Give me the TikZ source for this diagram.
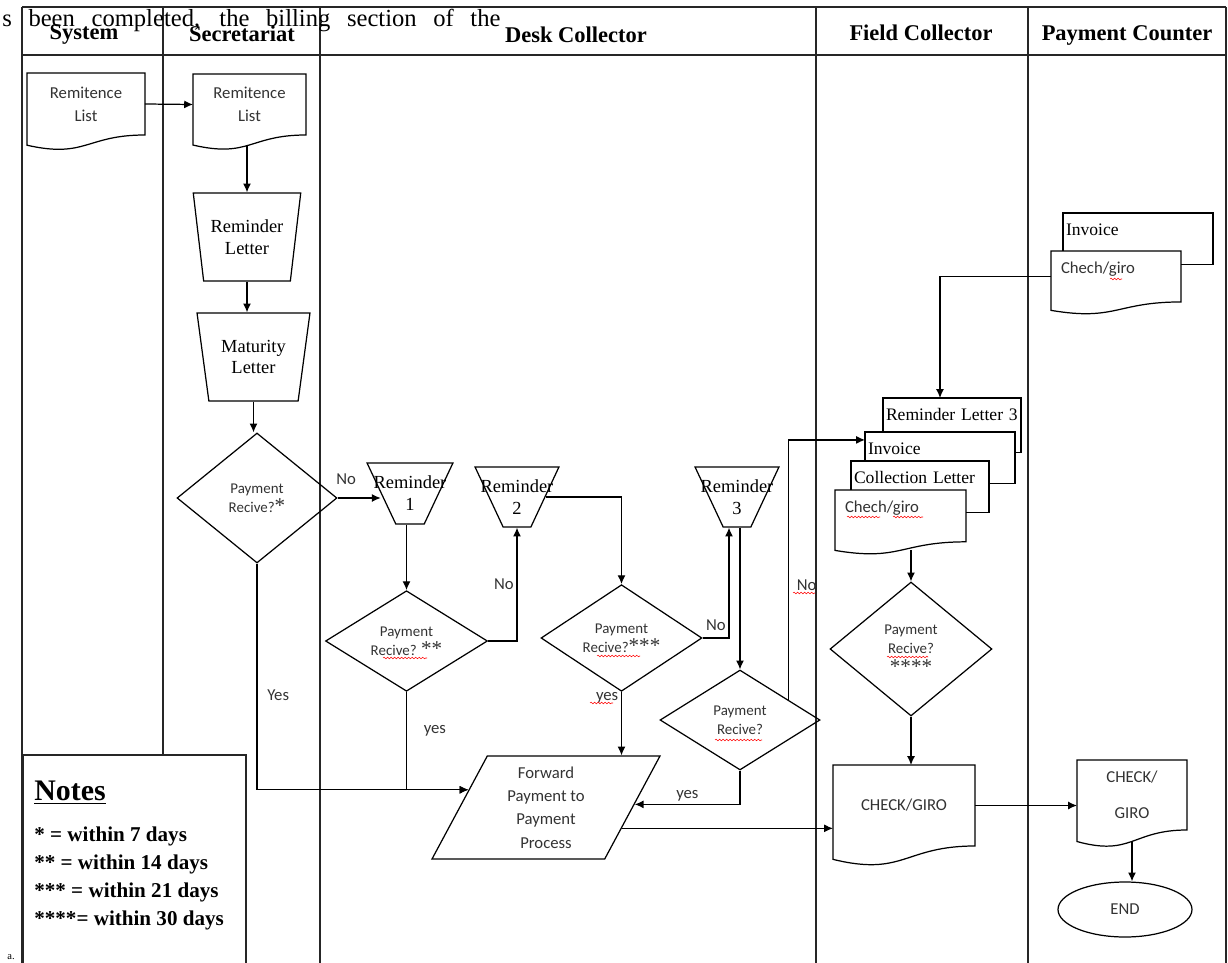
\documentclass[tikz,border=0pt]{standalone}
\usepackage{fontspec}
\setmainfont{Liberation Serif}
\newfontfamily\calib{Carlito}
\usetikzlibrary{calc,arrows.meta,shapes.geometric,decorations.pathmorphing}

\makeatletter
\newdimen\dcxl \newdimen\dcxr \newdimen\dcxm \newdimen\dcyt \newdimen\dcyb \newdimen\dch
\pgfdeclareshape{document}{
  \inheritsavedanchors[from=rectangle]
  \inheritanchorborder[from=rectangle]
  \inheritanchor[from=rectangle]{center}
  \inheritanchor[from=rectangle]{north}
  \inheritanchor[from=rectangle]{south}
  \inheritanchor[from=rectangle]{east}
  \inheritanchor[from=rectangle]{west}
  \inheritanchor[from=rectangle]{north east}
  \inheritanchor[from=rectangle]{north west}
  \inheritanchor[from=rectangle]{south east}
  \inheritanchor[from=rectangle]{south west}
  \inheritanchor[from=rectangle]{base}
  \inheritanchor[from=rectangle]{mid}
  \anchor{wave}{%
    \southwest \dcxl=\pgf@x \dcyb=\pgf@y
    \northeast \dch=\pgf@y \advance\dch by -\dcyb
    \pgf@x=.5\pgf@x \advance\pgf@x by .5\dcxl
    \pgf@y=\dcyb \advance\pgf@y by -.162\dch}
  \backgroundpath{%
    \southwest \dcxl=\pgf@x \dcyb=\pgf@y
    \northeast \dcxr=\pgf@x \dcyt=\pgf@y
    \dcxm=.5\dcxl \advance\dcxm by .5\dcxr
    \dch=\dcyt \advance\dch by -\dcyb
    \pgfpathmoveto{\pgfqpoint{\dcxl}{\dcyt}}%
    \pgfpathlineto{\pgfqpoint{\dcxr}{\dcyt}}%
    \pgfpathlineto{\pgfqpoint{\dcxr}{\dcyb}}%
    \pgfpathcurveto{\pgfqpoint{\dcxm}{\dcyb}}%
      {\pgfqpoint{\dcxm}{\dimexpr\dcyb-.38\dch\relax}}%
      {\pgfqpoint{\dcxl}{\dimexpr\dcyb-.165\dch\relax}}%
    \pgfpathclose}
}
\makeatother

\begin{document}
\begin{tikzpicture}[x=0.02cm, y=-0.02cm,
  lane/.style={black!85, line width=0.7pt},
  arr/.style={-{Latex[length=5pt,width=4.5pt]}, line width=0.7pt},
  docu/.style={shape=document, draw, fill=white, line width=0.7pt, outer sep=0pt, inner sep=0pt, align=center, text=black!80, font=\calib\fontsize{9.5}{13}\selectfont},
  leftdoc/.style={docu, anchor=north west, align=left, inner xsep=0.2cm, inner ysep=0pt, text height=13pt},
  sheet/.style={rectangle, draw, fill=white, line width=0.7pt, outer sep=0pt, anchor=north west, inner ysep=0pt, inner xsep=0.06cm, align=left, text height=13pt, font=\fontsize{10}{12}\selectfont},
  trap/.style={trapezium, shape border rotate=180, trapezium stretches=true, draw, line width=0.7pt, inner sep=0pt, align=center, font=\fontsize{10.5}{12.5}\selectfont},
  dec/.style={diamond, draw, line width=0.7pt, inner sep=0pt, align=center, text=black!80, font=\calib\fontsize{8.5}{11}\selectfont},
  lbl/.style={inner sep=1.5pt, text=black!80, font=\calib\fontsize{9.5}{11}\selectfont},
  head/.style={font=\bfseries\fontsize{12.8}{14}\selectfont},
  spell/.style={red, line width=0.3pt, decorate, decoration={snake, amplitude=0.45pt, segment length=2pt}}]
\useasboundingbox (0,0) rectangle (1228,963);

\draw[lane] (22,7) -- (1226,7);
\draw[lane] (22,55) -- (1226,55);
\foreach \x in {22,320,816,1028,1226} \draw[lane] (\x,7) -- (\x,963);
\draw[lane] (163,7) -- (163,755);

\node[anchor=base west, inner sep=0pt, font=\fontsize{14}{16}\selectfont] (pageText) at (2,27) {\makebox[283.5pt][s]{s been completed, the billing section of the}};
\node[head] (hSys) at (84,34) {System};
\node[head] (hSec) at (242,34) {Secretariat};
\node[head] (hDesk) at (576,35) {Desk Collector};
\node[head] (hField) at (921,33) {Field Collector};
\node[head] (hPay) at (1127,35) {Payment Counter};

\node[docu, minimum width=2.36cm, minimum height=1.24cm] (sysList) at (86,104) {Remitence\\List};
\node[docu, minimum width=2.26cm, minimum height=1.22cm] (secList) at (249.5,104.5) {Remitence\\List};
\node[trap, trapezium angle=76, minimum width=2.16cm, minimum height=1.76cm] (remLetter) at (247,237) {Reminder\\Letter};
\node[trap, trapezium angle=76, minimum width=2.26cm, minimum height=1.76cm] (matLetter) at (253.5,357) {Maturity\\Letter};
\node[dec, minimum width=3.2cm, minimum height=2.6cm] (dia1) at (257,498) {Payment\\Recive?{\rmfamily\fontsize{12}{11}\selectfont *}};
\node[trap, trapezium angle=75, minimum width=1.72cm, minimum height=1.22cm] (rem1) at (410,493.5) {\makebox[0pt]{Reminder}\\1};
\node[trap, trapezium angle=75, minimum width=1.68cm, minimum height=1.2cm] (rem2) at (517,497) {\makebox[0pt]{Reminder}\\2};
\node[trap, trapezium angle=75, minimum width=1.68cm, minimum height=1.2cm] (rem3) at (737,497) {\makebox[0pt]{Reminder}\\3};
\node[dec, minimum width=3.24cm, minimum height=1.96cm] (dia2) at (406.5,641) {Payment\\Recive? {\rmfamily\fontsize{12}{11}\selectfont **}};
\node[dec, minimum width=3.22cm, minimum height=2cm] (dia3) at (621.5,638) {Payment\\Recive?{\rmfamily\fontsize{12}{11}\selectfont ***}};
\node[dec, minimum width=3.2cm, minimum height=2cm] (dia4) at (740,720) {Payment\\Recive?};
\node[trapezium, trapezium left angle=66, trapezium right angle=114, trapezium stretches=true, draw, line width=0.7pt, inner sep=0pt, align=center, text=black!80, font=\calib\fontsize{9.5}{13.3}\selectfont, minimum width=4.6cm, minimum height=2.06cm] (fwd) at (546,807.5) {Forward\\Payment to\\Payment\\Process};

\node[sheet, text width=2.64cm, text depth=18.2pt] (fcRL3) at (883,398) {Reminder Letter 3};
\node[sheet, text width=2.88cm, text depth=16.5pt] (fcInv) at (865,432) {Invoice};
\node[sheet, text width=2.64cm, text depth=16.5pt] (fcColl) at (851,461) {Collection Letter};
\node[leftdoc, text width=2.22cm, text depth=16.5pt] (fcChech) at (835,490) {Chech/giro};
\node[dec, minimum width=3.24cm, minimum height=2.68cm] (dia5) at (911,649) {Payment\\Recive?\\{\rmfamily\fontsize{12}{11}\selectfont ****}};
\node[docu, minimum width=2.84cm, minimum height=1.62cm] (fcCheck) at (904,805.5) {CHECK/GIRO};

\node[sheet, text width=2.88cm, text depth=16.5pt] (pcInv) at (1063,213) {Invoice};
\node[leftdoc, text width=2.2cm, text depth=16pt] (pcChech) at (1051,251) {Chech/giro};
\node[docu, minimum width=2.2cm, minimum height=1.4cm, font=\calib\fontsize{9.5}{20.5}\selectfont] (pcCheck) at (1132,795) {CHECK/\\GIRO};
\node[ellipse, draw, line width=0.7pt, minimum width=2.68cm, minimum height=1.1cm, text=black!80, font=\calib\fontsize{9.5}{11}\selectfont] (pcEnd) at (1125,909.5) {END};

\coordinate (fwdIn) at ($(fwd.top left corner)!0.33!(fwd.bottom left corner)$);
\coordinate (fwdYes) at ($(fwd.top right corner)!0.47!(fwd.bottom right corner)$);
\coordinate (fwdOut) at ($(fwd.top right corner)!0.7!(fwd.bottom right corner)$);
\coordinate (noStart) at ($(dia4.north)!0.6!(dia4.east)$);

\draw[arr] (sysList.east) -- (secList.west);
\draw[arr] (secList.wave -| remLetter.north) -- (remLetter.north);
\draw[arr] (remLetter.south) -- (remLetter.south |- matLetter.north);
\draw[arr] (matLetter.south) -- (matLetter.south |- dia1.north);
\draw[arr] (dia1.east) -- (dia1.east -| rem1.west) node[lbl, pos=0.2, above=6pt] {No};
\draw[arr] (dia2.north |- rem1.south) -- (dia2.north);
\draw[arr] (dia2.east) -| (rem2.south) node[lbl, pos=0.75, left] {No};
\draw[arr] (rem2.east) -| (dia3.north);
\draw[arr] (dia3.east) -| ($(rem3.south)+(-8,0)$) node[lbl, pos=0.56, left] {No};
\draw[arr] (dia4.north |- rem3.south) -- (dia4.north);
\draw[arr] (noStart) |- ($(fcInv.west)+(0,-18)$) node[lbl, pos=0.22, right=3pt] {No};
\draw[arr] (pcChech.west) -| (fcInv.north |- fcRL3.north);
\draw[arr] (fcChech.wave -| dia5.north) -- (dia5.north);
\draw[arr] (dia5.south) -- (dia5.south |- fcCheck.north);
\draw[arr] (fcCheck.east) -- (fcCheck.east -| pcCheck.west);
\draw[arr] (pcCheck.wave) -- (pcCheck.wave |- pcEnd.north);
\draw[arr] (dia1.south) |- (fwdIn) node[lbl, pos=0.29, right=4pt] {Yes};
\draw[arr] (dia2.south) |- (fwdIn) node[lbl, pos=0.2, right=8pt] {yes};
\draw[arr] (dia3.south) -- (dia3.south |- fwd.north) node[lbl, pos=0.1, left] {yes};
\draw[arr] (dia4.south) |- (fwdYes) node[lbl, pos=0.75, above] {yes};
\draw[arr] (fwdOut) -- (fwdOut -| fcCheck.west);

\draw[spell] (383,658) -- (427,658);
\draw[spell] (597,656) -- (640,656);
\draw[spell] (590,703) -- (613,703);
\draw[spell] (793,593) -- (815,593);
\draw[spell] (715,740) -- (762,740);
\draw[spell] (887,657) -- (928,657);
\draw[spell] (847,517) -- (880,517);
\draw[spell] (893,517) -- (923,517);
\draw[spell] (1110,279) -- (1122,279);

\draw[lane, fill=white] (23,755) rectangle (246,975);
\node[anchor=north west, inner sep=0pt, align=left, font=\bfseries\fontsize{12}{16}\selectfont] (notes) at (34,781) {{\fontsize{17}{20}\selectfont\underline{Notes}}\\[7pt]* = within 7 days\\** = within 14 days\\*** = within 21 days\\****= within 30 days};
\node[font=\fontsize{6}{7}\selectfont] (mark) at (11,957) {a.};
\end{tikzpicture}
\end{document}
